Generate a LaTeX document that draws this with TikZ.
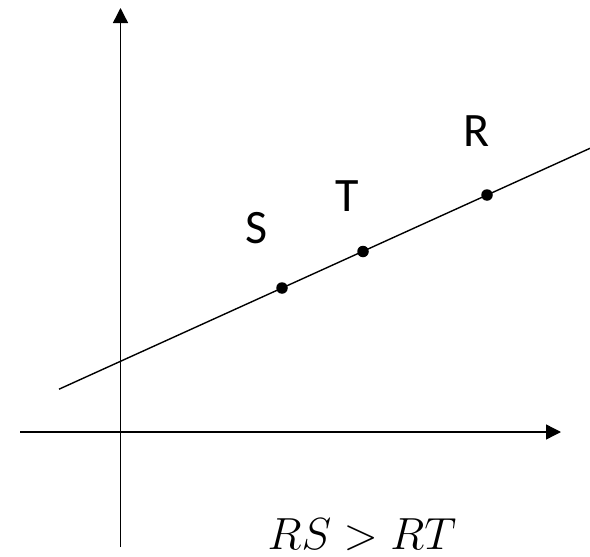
\documentclass[tikz,border=0pt]{standalone}
\usepackage{fix-cm}
\usepackage{fontspec}
\newfontfamily\labelfont{Carlito}
\usepackage{tikz}
\usetikzlibrary{arrows.meta,positioning}

\begin{document}
\begin{tikzpicture}[
  x=1pt, y=-1pt,
  every node/.style={inner sep=0pt},
  axis/.style={line width=1.4pt, -{Triangle[length=15pt,width=15pt]}},
  graphline/.style={line width=1.4pt},
  dot/.style={circle, fill=black, minimum size=11.5pt},
  ptlabel/.style={font=\labelfont\fontsize{48}{52}\selectfont}
]
  \useasboundingbox (0,0) rectangle (590,557);

  % Axes
  \coordinate (ybottom) at (120.5,547);
  \coordinate (ytop) at (120.5,8);
  \coordinate (xleft) at (20,432);
  \coordinate (xright) at (561,432);
  \draw [axis] (ybottom) -- (ytop);
  \draw [axis] (xleft) -- (xright);

  % Line and points
  \coordinate (lstart) at (59,389.2);
  \coordinate (lend) at (590,148.3);
  \draw [graphline] (lstart) -- (lend);
  \node (S) [dot] at (282,288) {};
  \node (T) [dot] at (363,251.5) {};
  \node (R) [dot] at (487,195) {};

  % Labels
  \node (Slab) [ptlabel] at (256.5,228) {S};
  \node (Tlab) [ptlabel] at (347,196) {T};
  \node (Rlab) [ptlabel] at (477,131) {R};
  \node (rel) [anchor=base, font=\fontsize{45}{50}\selectfont] at (362,549) {$RS > RT$};
\end{tikzpicture}
\end{document}
